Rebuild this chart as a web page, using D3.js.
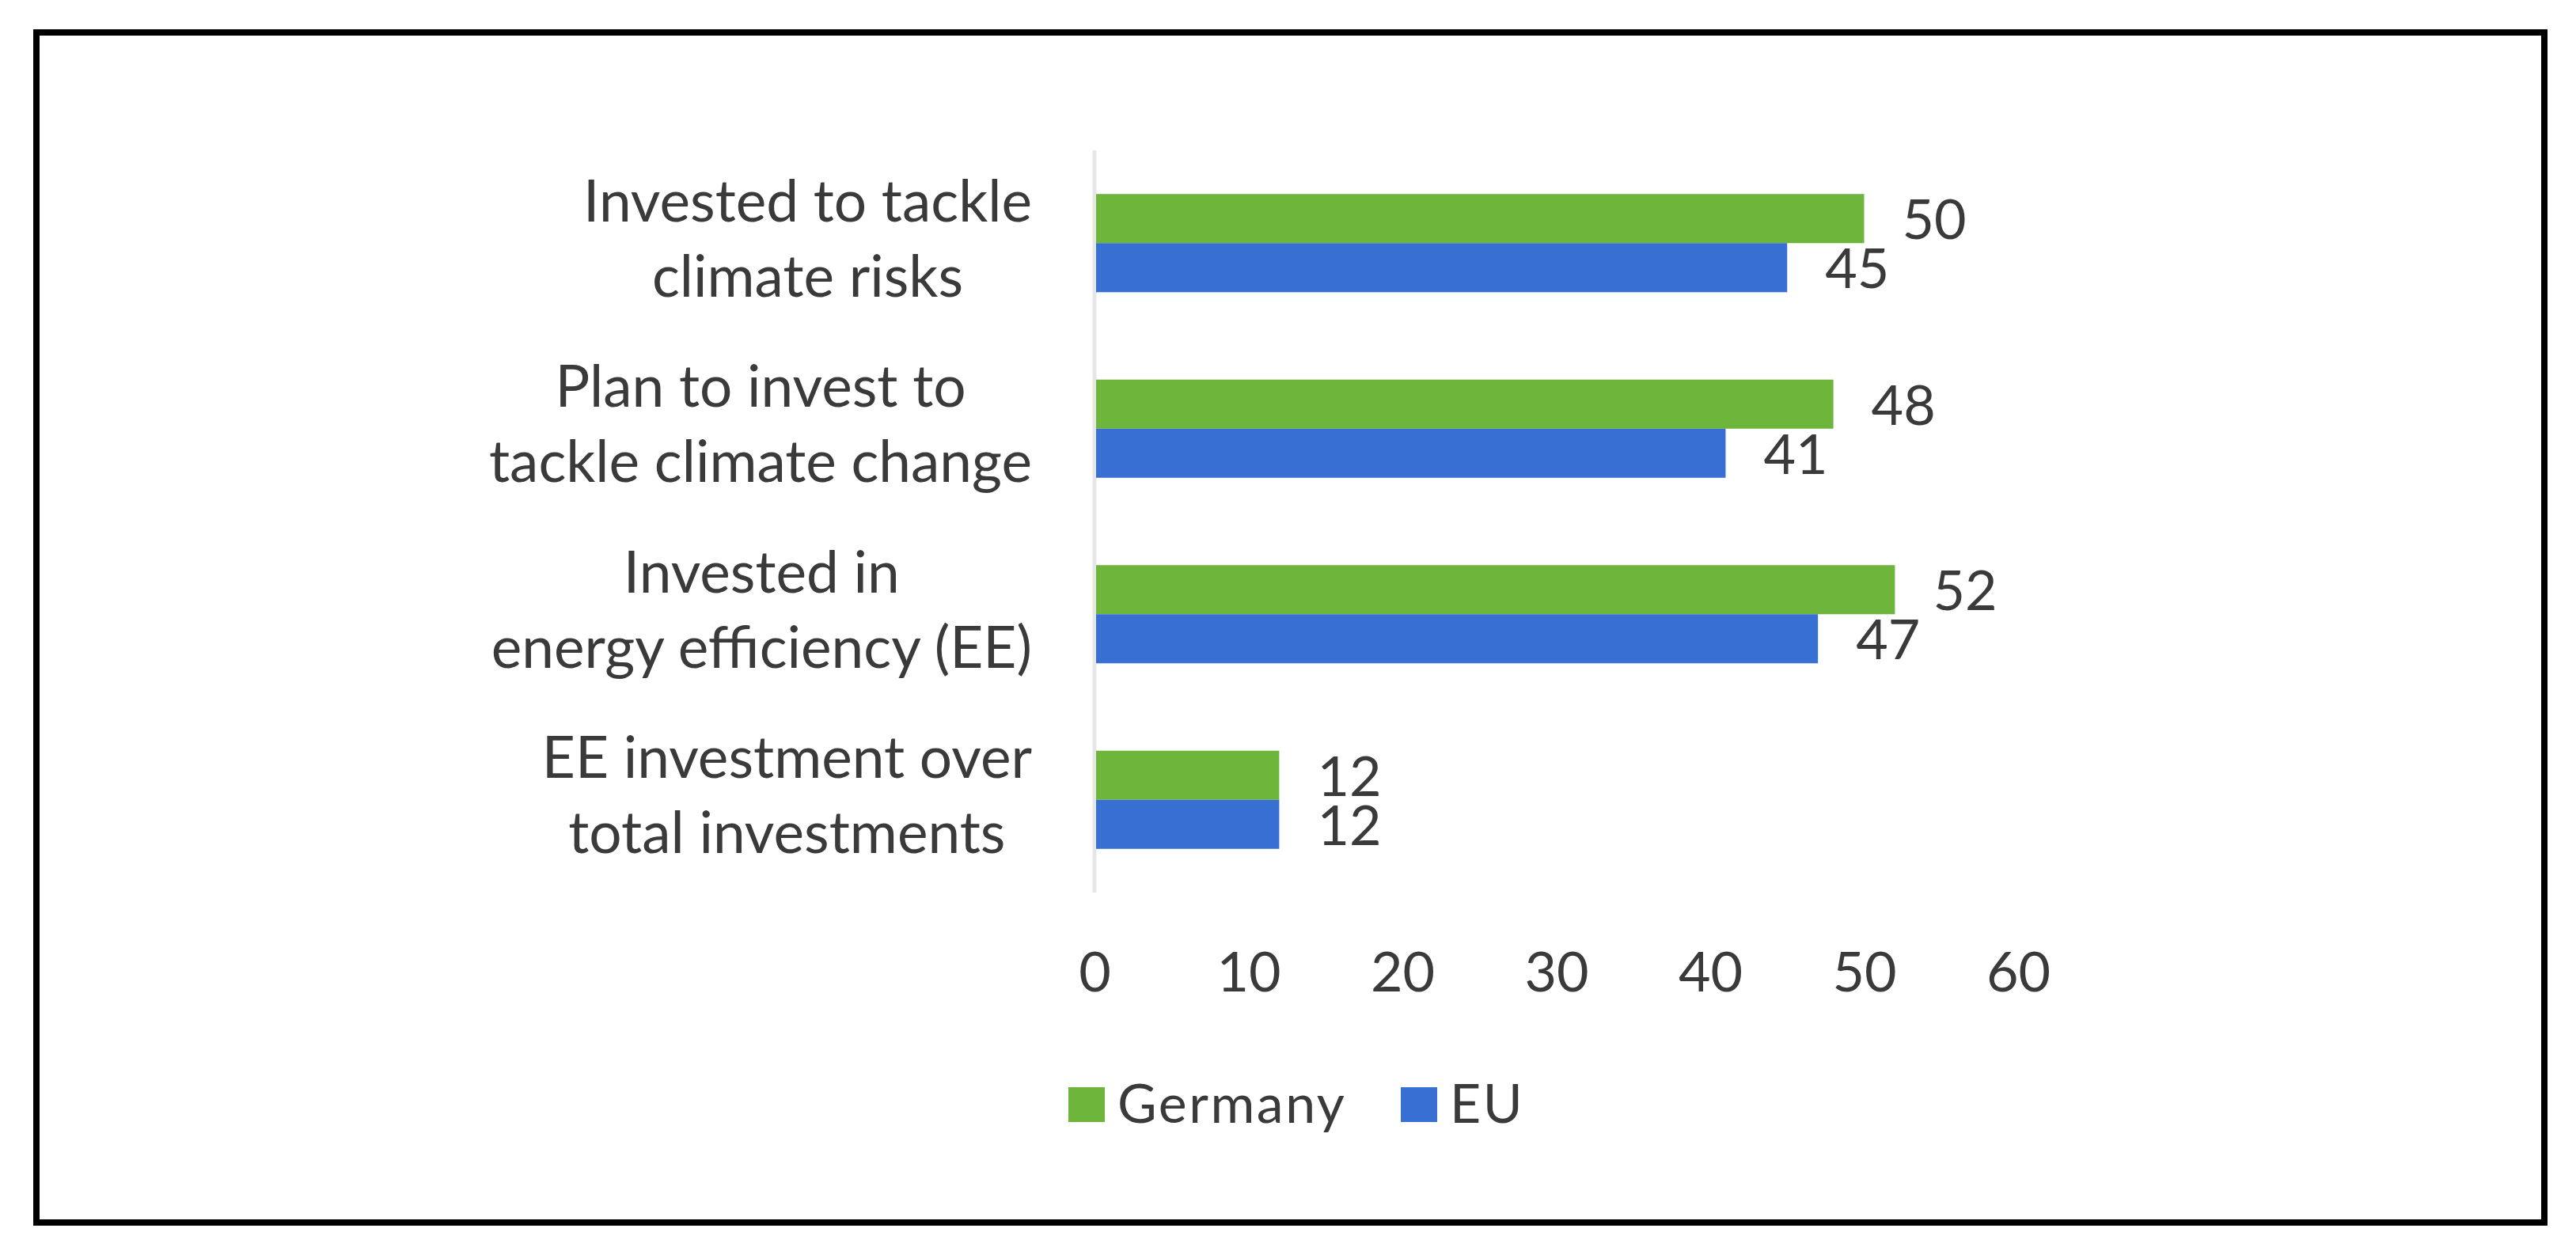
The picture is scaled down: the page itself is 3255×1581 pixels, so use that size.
<!DOCTYPE html>
<html>
<head>
<meta charset="utf-8">
<script src="https://cdn.jsdelivr.net/npm/d3@7/dist/d3.min.js"></script>
<style>
  html, body { margin: 0; padding: 0; background: #ffffff; }
  svg { display: block; }
  text { font-family: Lato, "Open Sans", "Liberation Sans", sans-serif; fill: #3a3a3a; }
</style>
</head>
<body>
<script>
// ---- data ----
const categories = [
  ["Invested to tackle", "climate risks"],
  ["Plan to invest to", "tackle climate change"],
  ["Invested in", "energy efficiency (EE)"],
  ["EE investment over", "total investments"]
];
const seriesNames = ["Germany", "EU"];
const germanyValues = [50, 48, 52, 12];
const euValues = [45, 41, 47, 12];
const xTicks = [0, 10, 20, 30, 40, 50, 60];
const colors = ["#6db53b", "#376fd3"];

// ---- layout ----
const W = 3255, H = 1581;
const svg = d3.select("body").append("svg").attr("width", W).attr("height", H);

svg.append("rect").attr("x", 0).attr("y", 0).attr("width", W).attr("height", H).attr("fill", "#fff");
svg.append("rect")
  .attr("x", 46).attr("y", 41).attr("width", 3169).attr("height", 1504)
  .attr("fill", "none").attr("stroke", "#000").attr("stroke-width", 8);

const plot = { left: 1383, right: 2550, top: 190, bottom: 1128 };
const x = d3.scaleLinear().domain([0, 60]).range([plot.left, plot.right]);
const catKeys = categories.map((c, i) => i);
const y = d3.scaleBand().domain(catKeys).range([plot.top, plot.bottom])
  .paddingInner(0.471).paddingOuter(0.2355);
const ySub = d3.scaleBand().domain(seriesNames).range([0, y.bandwidth()]);

const fs = 70;

// axis line
svg.append("line")
  .attr("x1", x(0)).attr("x2", x(0))
  .attr("y1", plot.top).attr("y2", plot.bottom)
  .attr("stroke", "#e6e6e6").attr("stroke-width", 5);

// bars
const rows = categories.map((c, i) => ({ i, vals: [germanyValues[i], euValues[i]] }));
const groups = svg.selectAll("g.cat").data(rows).enter().append("g")
  .attr("class", "cat")
  .attr("transform", d => `translate(0,${y(d.i)})`);

groups.selectAll("rect").data(d => d.vals.map((v, k) => ({ v, k })))
  .enter().append("rect")
  .attr("x", x(0) + 2)
  .attr("y", d => ySub(seriesNames[d.k]))
  .attr("width", d => x(d.v) - x(0) - 2)
  .attr("height", ySub.bandwidth())
  .attr("fill", d => colors[d.k]);

groups.selectAll("text.val").data(d => d.vals.map((v, k) => ({ v, k })))
  .enter().append("text")
  .attr("class", "val")
  .attr("x", d => x(d.v) + 48)
  .attr("y", d => ySub(seriesNames[d.k]) + ySub.bandwidth() / 2 + 26)
  .attr("font-size", fs)
  .text(d => d.v);

// category labels (centered lines, block right-aligned)
const labelRight = 1304;
const lineGap = 95;
categories.forEach((lines, i) => {
  const cy = y(i) + y.bandwidth() / 2;
  const t = svg.append("text").attr("font-size", 73).attr("text-anchor", "middle");
  const spans = lines.map((ln, j) => t.append("tspan")
    .attr("x", 0)
    .attr("y", cy + (j - (lines.length - 1) / 2) * lineGap + 20)
    .text(ln));
  const maxW = d3.max(spans, s => s.node().getComputedTextLength());
  spans.forEach(s => s.attr("x", labelRight - maxW / 2));
});

// x axis tick labels
const xAxis = d3.axisBottom(x).tickValues(xTicks).tickSize(0).tickPadding(0);
const ax = svg.append("g").attr("transform", `translate(0,1253)`).call(xAxis);
ax.select(".domain").remove();
ax.selectAll("text")
  .attr("font-size", fs)
  .attr("font-family", "Lato, 'Open Sans', sans-serif")
  .attr("fill", "#3a3a3a")
  .attr("dy", 0).attr("y", 0);

// legend
const legend = svg.append("g");
const legX = [1350, 1770];
seriesNames.forEach((name, k) => {
  legend.append("rect")
    .attr("x", legX[k]).attr("y", 1374).attr("width", 46).attr("height", 44)
    .attr("fill", colors[k]);
  legend.append("text")
    .attr("x", legX[k] + 62).attr("y", 1419)
    .attr("font-size", 68)
    .attr("letter-spacing", 2.5)
    .text(name);
});
</script>
</body>
</html>
